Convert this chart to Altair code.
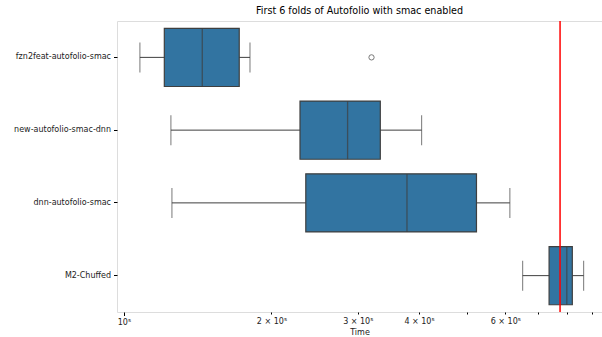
import altair as alt
import pandas as pd

categories = ["fzn2feat-autofolio-smac", "new-autofolio-smac-dnn", "dnn-autofolio-smac", "M2-Chuffed"]
lower_whisker = [1.078e5, 1.247e5, 1.253e5, 6.51e5]
q1 = [1.209e5, 2.287e5, 2.35e5, 7.37e5]
median = [1.445e5, 2.86e5, 3.78e5, 8.01e5]
q3 = [1.719e5, 3.335e5, 5.24e5, 8.22e5]
upper_whisker = [1.808e5, 4.05e5, 6.13e5, 8.67e5]

outlier_cats = ["fzn2feat-autofolio-smac"]
outlier_vals = [3.20e5]

reference_value = [7.76e5]

tick_values = [1e5, 2e5, 3e5, 4e5, 5e5, 6e5, 7e5, 8e5, 9e5]
tick_labels = {1e5: "10⁵", 2e5: "2 × 10⁵", 3e5: "3 × 10⁵", 4e5: "4 × 10⁵", 6e5: "6 × 10⁵"}

df = pd.DataFrame({
    "cat": categories, "lw": lower_whisker, "q1": q1, "med": median,
    "q3": q3, "uw": upper_whisker,
})
out_df = pd.DataFrame({"cat": outlier_cats, "val": outlier_vals})
ref_df = pd.DataFrame({"ref": reference_value})

FONT = "DejaVu Sans"
LINE = "#3f3f3f"
FILL = "#3274a1"

label_expr = " : ".join(
    [f"datum.value == {int(v)} ? '{t}'" for v, t in tick_labels.items()]
) + " : ''"

xscale = alt.Scale(type="log", domain=[96800, 945000], nice=False)
yscale = alt.Scale(domain=categories, paddingInner=0.2, paddingOuter=0.1)

xaxis = alt.Axis(
    values=tick_values, labelExpr=label_expr, title="Time", grid=False, domain=False,
    tickSize={"condition": {"test": "datum.value == 100000", "value": 3.5}, "value": 2},
    tickColor="#000", labelColor="#222", labelFontSize=8, titleFontSize=8,
    labelFont=FONT, titleFont=FONT, titleFontWeight="normal", labelPadding=3,
    titlePadding=2, titleColor="#222", labelFlush=False,
)
yaxis = alt.Axis(
    title=None, grid=False, domain=False, tickSize=3.5, tickColor="#000",
    labelColor="#222", labelFontSize=8, labelFont=FONT, labelPadding=3,
)

base = alt.Chart(df)

whisker = base.mark_rule(color=LINE, strokeWidth=1).encode(
    x=alt.X("lw:Q", scale=xscale, axis=xaxis),
    x2="uw:Q",
    y=alt.Y("cat:N", scale=yscale, axis=yaxis, sort=categories),
)
box = base.mark_bar(fill=FILL, stroke=LINE, strokeWidth=1.2).encode(
    x=alt.X("q1:Q", scale=xscale),
    x2="q3:Q",
    y=alt.Y("cat:N", sort=categories),
)
med = base.mark_tick(orient="vertical", size=58, thickness=1.3, color=LINE).encode(
    x=alt.X("med:Q", scale=xscale),
    y=alt.Y("cat:N", sort=categories),
)
cap_lo = base.mark_tick(orient="vertical", size=30, thickness=1, color=LINE).encode(
    x=alt.X("lw:Q", scale=xscale),
    y=alt.Y("cat:N", sort=categories),
)
cap_hi = base.mark_tick(orient="vertical", size=30, thickness=1, color=LINE).encode(
    x=alt.X("uw:Q", scale=xscale),
    y=alt.Y("cat:N", sort=categories),
)
outl = alt.Chart(out_df).mark_point(shape="circle", filled=False, size=28, stroke=LINE, strokeWidth=1).encode(
    x=alt.X("val:Q", scale=xscale),
    y=alt.Y("cat:N", sort=categories),
)
ref = alt.Chart(ref_df).mark_rule(color="red", strokeWidth=1.5).encode(
    x=alt.X("ref:Q", scale=xscale),
)

chart = alt.layer(whisker, box, med, cap_lo, cap_hi, outl, ref).properties(
    width=485,
    height=291,
    title=alt.TitleParams(
        "First 6 folds of Autofolio with smac enabled", font=FONT, fontSize=9.6,
        fontWeight="normal", color="#000", offset=5, anchor="middle",
    ),
    autosize=alt.AutoSizeParams(type="none"),
    padding={"left": 117, "top": 21, "right": 0, "bottom": 25},
).configure_view(stroke="#000", strokeWidth=0.8).configure(background="white")

chart.save("out.html", embed_options={"renderer": "svg", "actions": False})
